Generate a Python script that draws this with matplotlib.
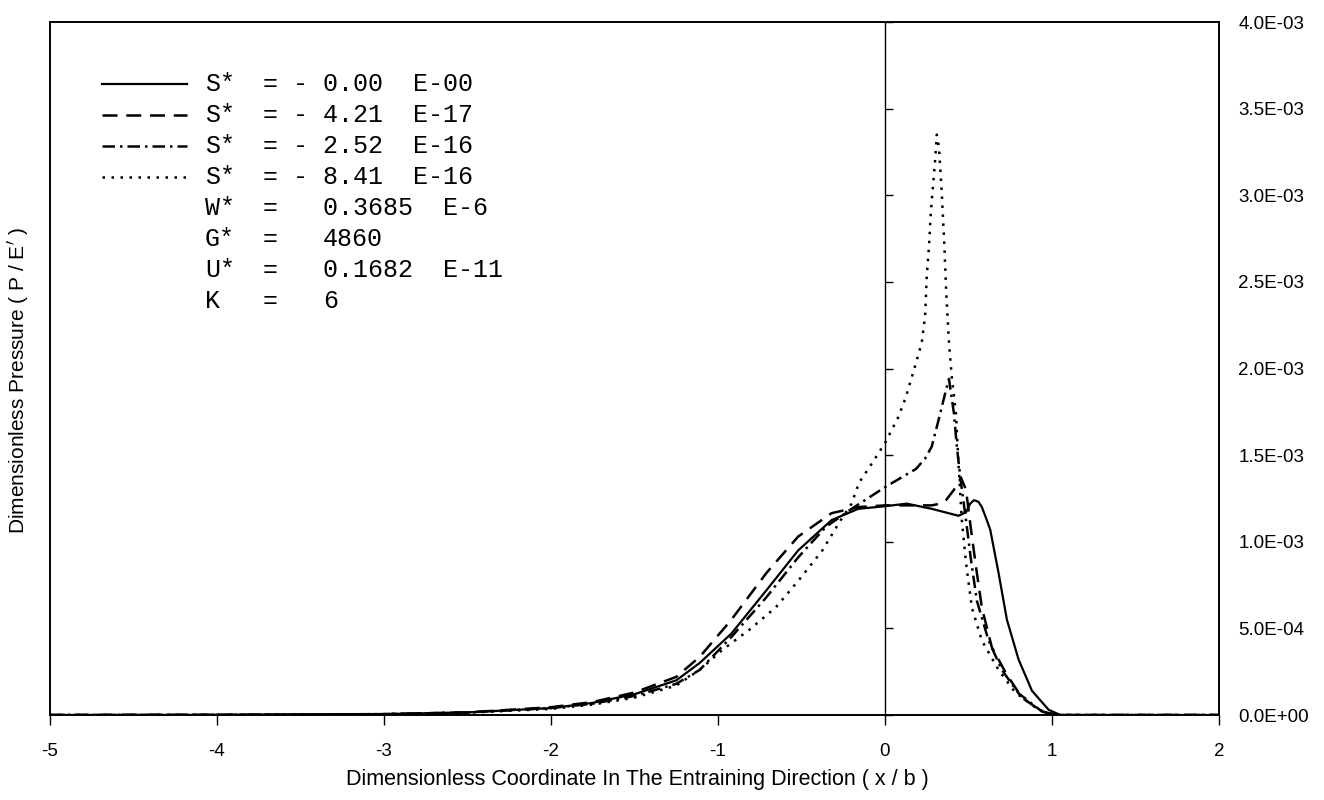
import numpy as np
import matplotlib.pyplot as plt

plt.rcParams['font.family'] = ['Liberation Sans', 'DejaVu Sans']

# S* = -0.00 E-00 (solid)
x_s0 = [-5.0, -4.0, -3.0, -2.5, -2.0, -1.75, -1.5, -1.25, -1.11, -0.92, -0.71, -0.52, -0.32, -0.16, 0.0,
        0.13, 0.28, 0.44, 0.485, 0.51, 0.533, 0.56, 0.58, 0.60, 0.63, 0.68, 0.73, 0.80, 0.88, 0.98, 1.05, 2.0]
p_s0 = [0.0, 0.001, 0.005, 0.015, 0.04, 0.07, 0.12, 0.20, 0.30, 0.47, 0.72, 0.95, 1.125, 1.19, 1.205,
        1.22, 1.19, 1.15, 1.17, 1.22, 1.24, 1.23, 1.20, 1.15, 1.07, 0.82, 0.55, 0.32, 0.14, 0.03, 0.0, 0.0]

# S* = -4.21 E-17 (dashed)
x_s1 = [-5.0, -4.0, -3.0, -2.5, -2.0, -1.75, -1.5, -1.25, -1.11, -0.92, -0.71, -0.52, -0.32, -0.16, 0.0,
        0.19, 0.28, 0.33, 0.365, 0.413, 0.455, 0.485, 0.515, 0.545, 0.58, 0.64, 0.725, 0.82, 0.94, 1.03, 2.0]
p_s1 = [0.0, 0.001, 0.005, 0.015, 0.045, 0.075, 0.13, 0.22, 0.335, 0.55, 0.82, 1.03, 1.165, 1.20, 1.21,
        1.21, 1.21, 1.22, 1.24, 1.30, 1.37, 1.30, 1.07, 0.855, 0.62, 0.39, 0.24, 0.10, 0.02, 0.0, 0.0]

# S* = -2.52 E-16 (dash-dot)
x_s2 = [-5.0, -4.0, -3.0, -2.5, -2.0, -1.75, -1.5, -1.25, -1.11, -0.92, -0.71, -0.52, -0.355, -0.2, 0.0,
        0.185, 0.24, 0.28, 0.32, 0.365, 0.383, 0.413, 0.43, 0.455, 0.485, 0.515, 0.55, 0.62, 0.70, 0.80,
        0.94, 1.03, 2.0]
p_s2 = [0.0, 0.001, 0.005, 0.015, 0.04, 0.065, 0.11, 0.18, 0.26, 0.45, 0.68, 0.91, 1.085, 1.19, 1.315,
        1.42, 1.48, 1.55, 1.70, 1.875, 1.94, 1.74, 1.55, 1.34, 1.125, 0.895, 0.66, 0.43, 0.26, 0.125,
        0.02, 0.0, 0.0]

# S* = -8.41 E-16 (dotted)
x_s3 = [-5.0, -4.0, -3.0, -2.5, -2.0, -1.75, -1.5, -1.25, -1.11, -0.975, -0.815, -0.655, -0.515, -0.375,
        -0.275, -0.2, -0.156, -0.08, 0.0, 0.08, 0.125, 0.185, 0.22, 0.24, 0.25, 0.263, 0.275, 0.30, 0.31,
        0.323, 0.34, 0.355, 0.367, 0.383, 0.40, 0.425, 0.44, 0.46, 0.485, 0.52, 0.58, 0.68, 0.78,
        0.92, 1.02, 2.0]
p_s3 = [0.0, 0.001, 0.005, 0.013, 0.035, 0.06, 0.10, 0.17, 0.26, 0.375, 0.49, 0.62, 0.78, 0.95,
        1.11, 1.22, 1.34, 1.45, 1.57, 1.72, 1.835, 2.03, 2.15, 2.30, 2.53, 2.70, 2.91, 3.2, 3.35,
        3.28, 3.01, 2.72, 2.43, 2.15, 1.95, 1.74, 1.45, 1.125, 0.88, 0.62, 0.43, 0.26, 0.13,
        0.03, 0.0, 0.0]

series = [
    (x_s0, p_s0, '-', 'S*', '-', '0.00  E-00'),
    (x_s1, p_s1, (0, (6, 3.5)), 'S*', '-', '4.21  E-17'),
    (x_s2, p_s2, (0, (5, 2, 1, 2)), 'S*', '-', '2.52  E-16'),
    (x_s3, p_s3, (0, (1, 2.6)), 'S*', '-', '8.41  E-16'),
]
params = [('W*', '0.3685  E-6'), ('G*', '4860'), ('U*', '0.1682  E-11'), ('K', '6')]

xticks = [-5, -4, -3, -2, -1, 0, 1, 2]
yticks = [0, 0.5e-3, 1.0e-3, 1.5e-3, 2.0e-3, 2.5e-3, 3.0e-3, 3.5e-3, 4.0e-3]
ytick_labels = ['0.0E+00', '5.0E-04', '1.0E-03', '1.5E-03', '2.0E-03',
                '2.5E-03', '3.0E-03', '3.5E-03', '4.0E-03']

W, H = 1324, 800
fig = plt.figure(figsize=(W / 100, H / 100), dpi=100)
ax = fig.add_axes([50 / W, 1 - 715 / H, (1219 - 50) / W, (715 - 22) / H])

for xs, ps, ls, *_ in series:
    lw = 1.8 if ls != '-' else 1.6
    ax.plot(xs, np.array(ps) * 1e-3, color='black', linestyle=ls, linewidth=lw)

ax.set_xlim(-5, 2)
ax.set_ylim(0, 4e-3)
ax.set_xticks(xticks)
ax.set_xticklabels([str(t) for t in xticks])
ax.set_yticks(yticks)
ax.set_yticklabels(ytick_labels)

ax.spines['left'].set_position(('data', 0))
ax.spines['left'].set_linewidth(1.0)
for side in ['top', 'right', 'bottom']:
    ax.spines[side].set_linewidth(1.4)
ax.axvline(-5, color='black', linewidth=1.4, clip_on=False)

ax.tick_params(axis='y', direction='in', length=6, width=1, left=True, right=False,
               labelleft=False, labelright=True, pad=14, labelsize=13.5)
ax.tick_params(axis='x', direction='out', length=7, width=1, pad=13, labelsize=13.5)

fig.text(637 / W, 1 - 780 / H, 'Dimensionless Coordinate In The Entraining Direction ( x / b )',
         ha='center', va='center', fontsize=15.5)
fig.text(18 / W, 1 - 380 / H, "Dimensionless Pressure ( P / E$'$ )", rotation=90,
         ha='center', va='center', fontsize=15)

# legend block
rows_y = [84, 115, 146, 177, 208, 239, 270, 301]
mono = 'Liberation Mono'
fs = 18
for i, (xs, ps, ls, name, sign, val) in enumerate(series):
    y = 1 - rows_y[i] / H
    lw = 1.8 if ls != '-' else 1.6
    fig.add_artist(plt.Line2D([102 / W, 187 / W], [y, y], color='black', linestyle=ls,
                              linewidth=lw, transform=fig.transFigure))
    fig.text(205 / W, y, name, va='center', fontsize=fs, family=mono)
    fig.text(263 / W, y, '=', va='center', fontsize=fs, family=mono)
    fig.text(293 / W, y, sign, va='center', fontsize=fs, family=mono)
    fig.text(323 / W, y, val, va='center', fontsize=fs, family=mono)
for j, (name, val) in enumerate(params):
    y = 1 - rows_y[len(series) + j] / H
    fig.text(205 / W, y, name, va='center', fontsize=fs, family=mono)
    fig.text(263 / W, y, '=', va='center', fontsize=fs, family=mono)
    fig.text(323 / W, y, val, va='center', fontsize=fs, family=mono)

fig.savefig('out.png', dpi=100)
